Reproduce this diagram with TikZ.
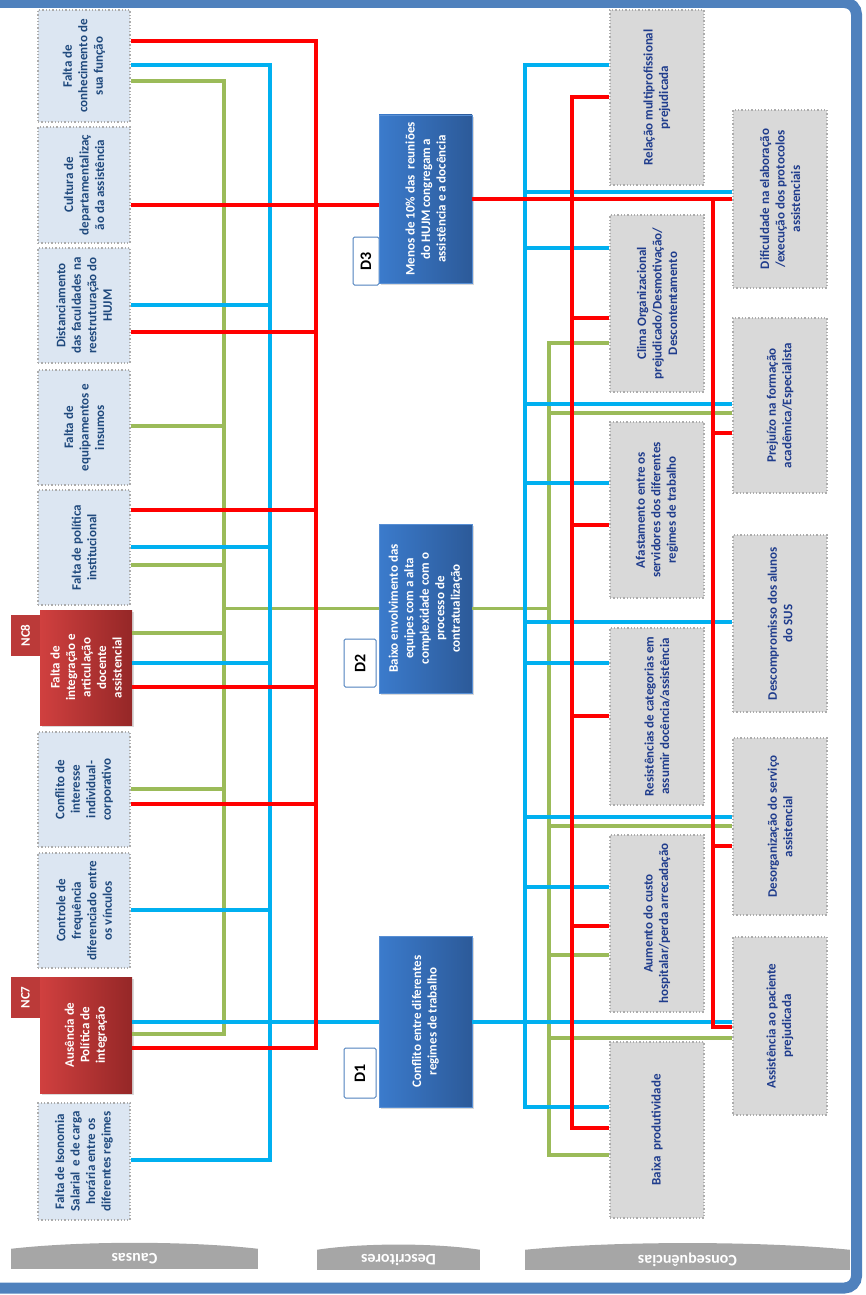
\documentclass[tikz,border=0pt]{standalone}
\usepackage{fontspec}
\setmainfont{Carlito}
\usepackage{graphicx}
\usetikzlibrary{shadows}

\definecolor{lnred}{HTML}{FF0000}
\definecolor{lncyan}{HTML}{00B0F0}
\definecolor{lngreen}{HTML}{9BBB59}
\definecolor{causefill}{HTML}{DCE6F2}
\definecolor{consfill}{HTML}{D9D9D9}
\definecolor{causetxt}{HTML}{1F497D}
\definecolor{constxt}{HTML}{1F3C8C}
\definecolor{framebl}{HTML}{4F81BD}
\definecolor{tabgray}{HTML}{A6A6A6}
\definecolor{ncredA}{HTML}{D0403F}
\definecolor{ncredB}{HTML}{952727}
\definecolor{dblueA}{HTML}{3B7BCC}
\definecolor{dblueB}{HTML}{2C5A99}

% text turned a quarter, read from bottom to top
\newcommand{\vtext}[2]{\rotatebox{90}{\parbox{#1pt}{\centering #2}}}

\tikzset{
  boxfont/.style={font=\bfseries\fontsize{13}{15.5}\selectfont},
  cause/.style={draw=gray!65, dotted, line width=1.3pt, fill=causefill, minimum width=92pt, inner sep=0pt, text=causetxt, boxfont},
  conseq/.style={cause, fill=consfill, minimum width=94pt, text=constxt},
  keycause/.style={left color=ncredA, right color=ncredB, minimum width=92pt, inner sep=0pt, text=white, boxfont, drop shadow={opacity=.3, shadow xshift=2pt, shadow yshift=-2pt}},
  nctab/.style={fill=ncredA!90!black, minimum width=29pt, minimum height=41pt, inner sep=0pt, text=white, boxfont},
  desc/.style={left color=dblueA, right color=dblueB, draw=dblueA!85!white, line width=.6pt, minimum width=93pt, inner sep=0pt, text=white, boxfont, drop shadow={opacity=.3, shadow xshift=2pt, shadow yshift=-2pt}},
  dlabel/.style={draw=framebl, fill=white, line width=1pt, rounded corners=1.5pt, inner sep=0pt, font=\bfseries\fontsize{16}{16}\selectfont},
  tab/.style={fill=tabgray, minimum height=20pt, inner sep=0pt, text=white, font=\bfseries\fontsize{16}{16}\selectfont},
  gline/.style={draw=lngreen, line width=3.5pt},
  cline/.style={draw=lncyan, line width=3.5pt},
  rline/.style={draw=lnred, line width=3.5pt},
}

\begin{document}
\begin{tikzpicture}[x=1pt, y=-1pt]
\useasboundingbox (0,0) rectangle (865,1295);
\clip (0,0) rectangle (865,1295);

% causes
\node[cause, minimum height=112pt] (c1) at (84,66) {\vtext{108}{Falta de\\conhecimento de\\sua função}};
\node[cause, minimum height=116pt] (c2) at (84,185) {\vtext{112}{Cultura de\\departamentalizaç\\ão da assistência}};
\node[cause, minimum height=115pt] (c3) at (84,305.5) {\vtext{111}{Distanciamento\\das faculdades na\\reestruturação do\\HUJM}};
\node[cause, minimum height=115pt] (c4) at (84,427.5) {\vtext{111}{Falta de\\equipamentos e\\insumos}};
\node[cause, minimum height=115pt] (c5) at (84,547.5) {\vtext{111}{Falta de política\\institucional}};
\node[keycause, minimum height=115pt] (nc8) at (86,667.5) {\vtext{111}{Falta de\\integração e\\articulação\\docente\\assistencial}};
\node[nctab] (nc8tab) at (25.5,635.5) {\rotatebox{90}{NC8}};
\node[cause, minimum height=115pt] (c7) at (84,789.5) {\vtext{111}{Conflito de\\interesse\\individual-\\corporativo}};
\node[cause, minimum height=115pt] (c8) at (84,910.5) {\vtext{111}{Controle de\\frequência\\diferenciado entre\\os vínculos}};
\node[keycause, minimum height=116pt] (nc7) at (86,1035) {\vtext{112}{Ausência de\\Política de\\integração}};
\node[nctab] (nc7tab) at (25.5,997.5) {\rotatebox{90}{NC7}};
\node[cause, minimum height=117pt] (c10) at (84,1161.5) {\vtext{113}{Falta de Isonomia\\Salarial\ \ e de carga\\horária entre os\\diferentes regimes}};

% descriptors
\node[dlabel, minimum width=26pt, minimum height=48pt] (d3lab) at (366,261) {\rotatebox{90}{D3}};
\node[dlabel, minimum width=32pt, minimum height=48pt] (d2lab) at (360,663) {\rotatebox{90}{D2}};
\node[dlabel, minimum width=32pt, minimum height=50pt] (d1lab) at (360,1073) {\rotatebox{90}{D1}};
\node[desc, minimum height=168pt] (d3) at (425.5,199) {\vtext{164}{Menos de 10\% das\ \ reuniões\\do HUJM congregam a\\assistência e a docência}};
\node[desc, minimum height=169pt] (d2) at (425.5,608.5) {\vtext{165}{Baixo envolvimento das\\equipes com a alta\\complexidade com o\\processo de\\contratualização}};
\node[desc, minimum height=171pt] (d1) at (425.5,1021.5) {\vtext{167}{Conflito entre diferentes\\regimes de trabalho}};

% consequences
\node[conseq, minimum height=175pt] (k1) at (657,97.5) {\vtext{171}{Relação multiprofissional\\prejudicada}};
\node[conseq, minimum height=177pt] (k2) at (657,303.5) {\vtext{173}{Clima Organizacional\\prejudicado/Desmotivação/\\Descontentamento}};
\node[conseq, minimum height=176pt] (k3) at (657,510) {\vtext{172}{Afastamento entre os\\servidores dos diferentes\\regimes de trabalho}};
\node[conseq, minimum height=177pt] (k4) at (657,716.5) {\vtext{173}{Resistências de categorias em\\assumir docência/assistência}};
\node[conseq, minimum height=177pt] (k5) at (657,923.5) {\vtext{173}{Aumento do custo\\hospitalar/perda arrecadação}};
\node[conseq, minimum height=176pt] (k6) at (657,1130) {\vtext{172}{Baixa\ \ produtividade}};
\node[conseq, minimum height=178pt] (o1) at (780,199) {\vtext{174}{Dificuldade na elaboração\\/execução dos protocolos\\assistenciais}};
\node[conseq, minimum height=175pt] (o2) at (780,405.5) {\vtext{171}{Prejuízo na formação\\acadêmica/Especialista}};
\node[conseq, minimum height=177pt] (o3) at (780,623.5) {\vtext{173}{Descompromisso dos alunos\\do SUS}};
\node[conseq, minimum height=177pt] (o4) at (780,826.5) {\vtext{173}{Desorganização do serviço\\assistencial}};
\node[conseq, minimum height=178pt] (o5) at (780,1026) {\vtext{174}{Assistência ao paciente\\prejudicada}};

% column tabs
\node[tab, minimum width=247pt] (tcau) at (134.5,1259) {\rotatebox{180}{Causas}};
\node[tab, minimum width=163pt] (tdes) at (398.5,1260) {\rotatebox{180}{Descritores}};
\node[tab, minimum width=325pt] (tcon) at (687.5,1260) {\rotatebox{180}{Consequências}};
\fill[tabgray] (tcau.north west) .. controls +(70,-8) and +(-70,-8) .. (tcau.north east) -- cycle;
\fill[tabgray] (tdes.north west) .. controls +(45,-7) and +(-45,-7) .. (tdes.north east) -- cycle;
\fill[tabgray] (tcon.north west) .. controls +(90,-9) and +(-90,-9) .. (tcon.north east) -- cycle;

% buses
\coordinate (gL) at (224,0);
\coordinate (cL) at (270,0);
\coordinate (rL) at (316,0);
\coordinate (cR) at (525,0);
\coordinate (gR) at (549,0);
\coordinate (rRa) at (572,0);
\coordinate (rRb) at (713,0);

% causes -> descriptors
\path[gline]
  (c1.east |- 0,81) -| (gL |- 0,1034) -- (nc7.east |- 0,1034)
  (c4.east |- 0,426) -- (gL |- 0,426)
  (c5.east |- 0,565) -- (gL |- 0,565)
  (nc8.east |- 0,633) -- (gL |- 0,633)
  (c7.east |- 0,789) -- (gL |- 0,789)
  (gL |- d2.west) -- (d2.west);
\path[cline]
  (c1.east |- 0,65) -| (cL |- 0,1160) -- (c10.east |- 0,1160)
  (c3.east |- 0,305) -- (cL |- 0,305)
  (c5.east |- 0,547) -- (cL |- 0,547)
  (nc8.east |- 0,663) -- (cL |- 0,663)
  (c8.east |- 0,910) -- (cL |- 0,910)
  (nc7.east |- 0,1022) -- (d1.west |- 0,1022);
\path[rline]
  (c1.east |- 0,41) -| (rL |- 0,1048) -- (nc7.east |- 0,1048)
  (c3.east |- 0,332) -- (rL |- 0,332)
  (c5.east |- 0,510) -- (rL |- 0,510)
  (nc8.east |- 0,687) -- (rL |- 0,687)
  (c7.east |- 0,804) -- (rL |- 0,804)
  (c2.east |- 0,205) -- (d3.west |- 0,205);

% descriptors -> consequences
\path[gline]
  (k2.west |- 0,343) -| (gR |- 0,1155) -- (k6.west |- 0,1155)
  (gR |- 0,413) -- (o2.west |- 0,413)
  (gR |- 0,826) -- (o4.west |- 0,826)
  (gR |- 0,955) -- (k5.west |- 0,955)
  (gR |- 0,1038) -- (o5.west |- 0,1038)
  (d2.east) -- (gR |- d2.east);
\path[cline]
  (k1.west |- 0,65) -| (cR |- 0,1107) -- (k6.west |- 0,1107)
  (cR |- 0,192) -- (o1.west |- 0,192)
  (cR |- 0,248) -- (k2.west |- 0,248)
  (cR |- 0,404) -- (o2.west |- 0,404)
  (cR |- 0,483) -- (k3.west |- 0,483)
  (cR |- 0,622) -- (o3.west |- 0,622)
  (cR |- 0,663) -- (k4.west |- 0,663)
  (cR |- 0,817) -- (o4.west |- 0,817)
  (cR |- 0,887) -- (k5.west |- 0,887)
  (d1.east |- 0,1022) -- (o5.west |- 0,1022);
\path[rline]
  (k1.west |- 0,97) -| (rRa |- 0,1128) -- (k6.west |- 0,1128)
  (rRa |- 0,318) -- (k2.west |- 0,318)
  (rRa |- 0,525) -- (k3.west |- 0,525)
  (rRa |- 0,716) -- (k4.west |- 0,716)
  (rRa |- 0,926) -- (k5.west |- 0,926)
  (d3.east |- 0,199) -- (o1.west |- 0,199)
  (rRb |- 0,199) -- (rRb |- 0,1027) -- (o5.west |- 0,1027)
  (rRb |- 0,433) -- (o2.west |- 0,433)
  (rRb |- 0,846) -- (o4.west |- 0,846);

% frame
\draw[framebl, line width=11pt, rounded corners=12pt] (-40,2.5) rectangle (856.5,1288);
\end{tikzpicture}
\end{document}
